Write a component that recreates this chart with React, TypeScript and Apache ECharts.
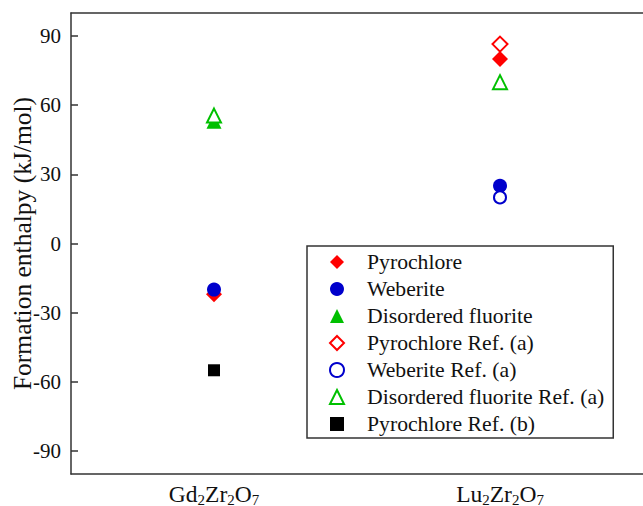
import React, { useEffect, useRef } from "react";
import * as echarts from "echarts";

const categories = ["Gd2Zr2O7", "Lu2Zr2O7"];
const categoryLabels = ["Gd{s|2}Zr{s|2}O{s|7}", "Lu{s|2}Zr{s|2}O{s|7}"];
const yTicks = [-90, -60, -30, 0, 30, 60, 90];

const pyrochlore = [-22, 80];
const weberite = [-20, 25];
const disorderedFluorite = [53, 70];
const pyrochloreRefA = [null, 86.5];
const weberiteRefA = [null, 20];
const disorderedFluoriteRefA = [55.5, 70];
const pyrochloreRefB = [-55, null];

const FONT = "'Liberation Serif', 'Times New Roman', serif";
const RED = "#ff0000";
const BLUE = "#0000cc";
const GREEN = "#00c000";

export default function App() {
  const ref = useRef<HTMLDivElement>(null);
  useEffect(() => {
    const chart = echarts.init(ref.current!, undefined, { renderer: "svg" });
    const mk = (name: string, data: any[], symbol: string, color: string, size: number) => ({
      name,
      type: "scatter",
      data,
      symbol,
      symbolSize: size,
      itemStyle: symbol.startsWith("empty")
        ? { color, borderColor: color, borderWidth: 2, opacity: 1 }
        : { color, opacity: 1 },
    });
    chart.setOption({
      animation: false,
      textStyle: { fontFamily: FONT },
      grid: { left: 71, top: 13, right: 0, bottom: 32, containLabel: false, outerBoundsMode: "none" },
      xAxis: [
        {
          type: "category",
          data: categories,
          boundaryGap: true,
          axisLine: { onZero: false, lineStyle: { color: "#333", width: 1.5 } },
          axisTick: { inside: true, length: 7, alignWithLabel: true, lineStyle: { color: "#333", width: 1.5 } },
          axisLabel: {
            margin: 7,
            color: "#111",
            formatter: (v: string) => categoryLabels[categories.indexOf(v)],
            fontFamily: FONT,
            fontSize: 23.5,
            rich: {
              s: { fontSize: 15, fontFamily: FONT, color: "#111", padding: [11, 0, 0, 0] },
            },
          },
          splitLine: { show: false },
        },
        {
          type: "category",
          data: categories,
          position: "top",
          axisLine: { onZero: false, lineStyle: { color: "#333", width: 1.5 } },
          axisTick: { show: false },
          axisLabel: { show: false },
        },
      ],
      yAxis: {
        type: "value",
        min: -100,
        max: 100,
        name: "Formation enthalpy (kJ/mol)",
        nameLocation: "middle",
        nameGap: 36,
        nameMoveOverlap: false,
        nameTextStyle: { fontFamily: FONT, fontSize: 25.5, color: "#111" },
        axisLine: { show: true, onZero: false, lineStyle: { color: "#333", width: 1.5 } },
        axisTick: { show: true, inside: true, length: 7, customValues: yTicks, lineStyle: { color: "#333", width: 1.5 } },
        axisLabel: { customValues: yTicks, margin: 10, fontFamily: FONT, fontSize: 21, color: "#111" },
        splitLine: { show: false },
      },
      legend: {
        orient: "vertical",
        left: 307,
        top: 246,
        itemWidth: 14,
        itemHeight: 14,
        itemGap: 5,
        padding: [5, 9, 3, 22],
        borderColor: "#333",
        borderWidth: 1.5,
        textStyle: { fontFamily: FONT, fontSize: 21.7, lineHeight: 22, color: "#111", padding: [0, 0, 0, 18] },
        data: [
          "Pyrochlore",
          "Weberite",
          "Disordered fluorite",
          "Pyrochlore Ref. (a)",
          "Weberite Ref. (a)",
          "Disordered fluorite Ref. (a)",
          "Pyrochlore Ref. (b)",
        ],
      },
      series: [
        mk("Pyrochlore", pyrochlore, "diamond", RED, 16),
        mk("Weberite", weberite, "circle", BLUE, 14),
        mk("Disordered fluorite", disorderedFluorite, "triangle", GREEN, 15),
        mk("Pyrochlore Ref. (a)", pyrochloreRefA, "emptyDiamond", RED, 15),
        mk("Weberite Ref. (a)", weberiteRefA, "emptyCircle", BLUE, 12),
        mk("Disordered fluorite Ref. (a)", disorderedFluoriteRefA, "emptyTriangle", GREEN, 14),
        mk("Pyrochlore Ref. (b)", pyrochloreRefB, "rect", "#000", 12),
      ],
    });
    return () => chart.dispose();
  }, []);
  return <div ref={ref} style={{ width: 643, height: 506, position: "absolute", left: 0, top: 0 }} />;
}
